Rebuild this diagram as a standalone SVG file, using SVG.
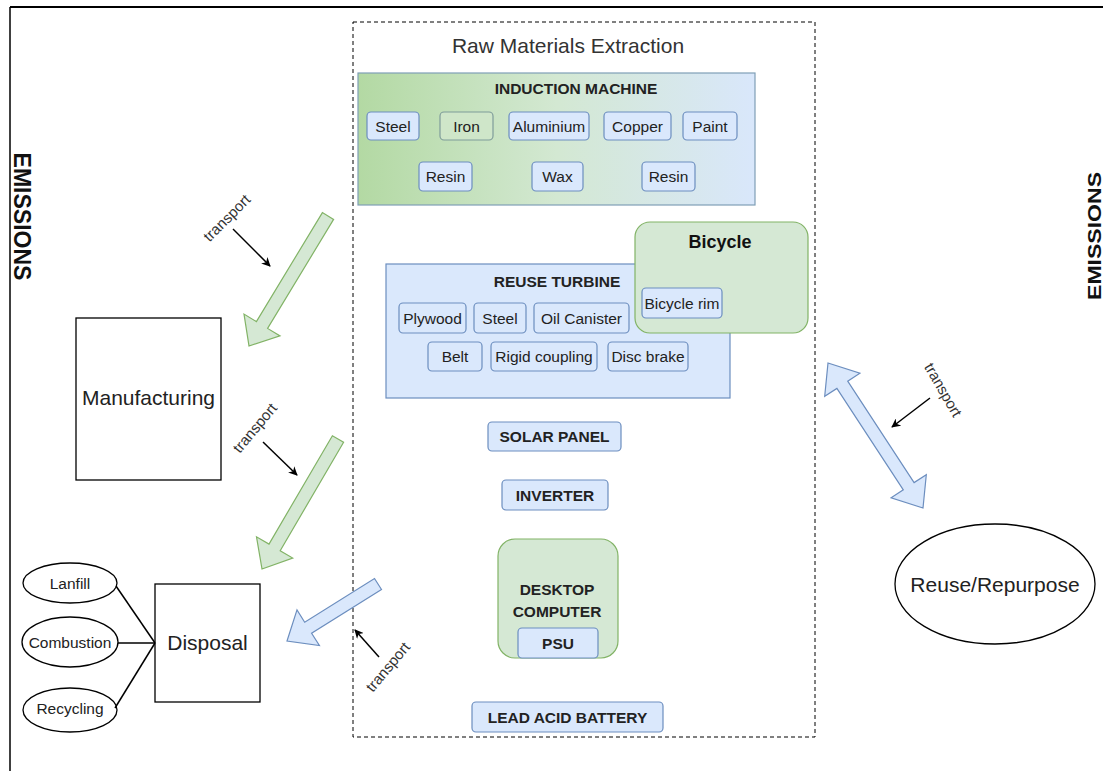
<svg xmlns="http://www.w3.org/2000/svg" width="1103" height="771" viewBox="0 0 1103 771">
<defs>
<linearGradient id="gIM" x1="0" y1="0" x2="1" y2="0">
<stop offset="0" stop-color="#b3d9a3"/>
<stop offset="0.5" stop-color="#d3e8d2"/>
<stop offset="1" stop-color="#d9e7fb"/>
</linearGradient>
<marker id="ah" viewBox="0 0 10 10" refX="9" refY="5" markerWidth="9" markerHeight="9" markerUnits="userSpaceOnUse" orient="auto">
<path d="M0,0 L10,5 L0,10 L3,5 Z" fill="#000"/>
</marker>
<style>
text{font-family:"Liberation Sans",Arial,sans-serif;fill:#222}
.item{fill:#dae8fc;stroke:#6c8ebf;stroke-width:1.2}
.itemg{fill:#cfe6c9;stroke:#7f9c9a;stroke-width:1.2}
.it{font-size:15.5px;text-anchor:middle}
.bt{font-size:15.5px;font-weight:bold;text-anchor:middle}
.big{font-size:21px;text-anchor:middle}
.plain{fill:#fff;stroke:#000;stroke-width:1.3}
.ga{fill:#d5e8d4;stroke:#82b366;stroke-width:1.2}
.ba{fill:#dae8fc;stroke:#6c8ebf;stroke-width:1.2}
.tr{font-size:15px;fill:#333;text-anchor:middle}
.sm{stroke:#000;stroke-width:1.5;fill:none}
.em{font-weight:bold;text-anchor:middle;fill:#111}
</style>
</defs>
<rect width="1103" height="771" fill="#fff"/>
<g id="frame">
<line x1="10" y1="7" x2="1103" y2="7" stroke="#000" stroke-width="2"/>
<line x1="10" y1="7" x2="10" y2="771" stroke="#000" stroke-width="1.5"/>
<text class="em" style="font-size:23px" transform="translate(14,216.5) rotate(90)">EMISSIONS</text>
<text class="em" style="font-size:19px" textLength="128" lengthAdjust="spacingAndGlyphs" transform="translate(1101,236) rotate(-90)">EMISSIONS</text>
</g>
<g id="raw-materials">
<rect x="353" y="22" width="462" height="715" fill="none" stroke="#000" stroke-width="1" stroke-dasharray="4 3"/>
<text x="568" y="53" style="font-size:21px;text-anchor:middle;fill:#333">Raw Materials Extraction</text>
</g>
<g id="induction-machine">
<rect x="358" y="73" width="397" height="132" fill="url(#gIM)" stroke="#7f9fb6" stroke-width="1.2"/>
<text class="bt" x="576" y="94">INDUCTION MACHINE</text>
<rect class="item" x="367" y="112" width="52" height="28" rx="4"/><text class="it" x="393" y="131.5">Steel</text>
<rect class="itemg" x="440" y="112" width="53" height="28" rx="4"/><text class="it" x="466.5" y="131.5">Iron</text>
<rect class="item" x="509" y="112" width="80" height="28" rx="4"/><text class="it" x="549" y="131.5">Aluminium</text>
<rect class="item" x="604" y="112" width="67" height="28" rx="4"/><text class="it" x="637.5" y="131.5">Copper</text>
<rect class="item" x="683" y="112" width="54" height="28" rx="4"/><text class="it" x="710" y="131.5">Paint</text>
<rect class="item" x="419" y="162" width="53" height="29" rx="4"/><text class="it" x="445.5" y="182">Resin</text>
<rect class="item" x="532" y="162" width="51" height="29" rx="4"/><text class="it" x="557.5" y="182">Wax</text>
<rect class="item" x="642" y="162" width="53" height="29" rx="4"/><text class="it" x="668.5" y="182">Resin</text>
</g>
<g id="reuse-turbine">
<rect x="386" y="264" width="344" height="134" fill="#dae8fc" stroke="#6c8ebf" stroke-width="1.2"/>
<text class="bt" x="557" y="287">REUSE TURBINE</text>
<rect class="item" x="399" y="303" width="67" height="30" rx="4"/><text class="it" x="432.5" y="323.5">Plywood</text>
<rect class="item" x="474" y="303" width="52" height="30" rx="4"/><text class="it" x="500" y="323.5">Steel</text>
<rect class="item" x="534" y="303" width="95" height="30" rx="4"/><text class="it" x="581.5" y="323.5">Oil Canister</text>
<rect class="item" x="428" y="342" width="54" height="29" rx="4"/><text class="it" x="455" y="362">Belt</text>
<rect class="item" x="491" y="342" width="106" height="29" rx="4"/><text class="it" x="544" y="362">Rigid coupling</text>
<rect class="item" x="608" y="342" width="80" height="29" rx="4"/><text class="it" x="648" y="362">Disc brake</text>
</g>
<g id="bicycle">
<rect x="635" y="222" width="173" height="111" rx="15" fill="#d5e8d4" stroke="#82b366" stroke-width="1.2"/>
<text x="720" y="248" style="font-size:18px;font-weight:bold;text-anchor:middle;fill:#111">Bicycle</text>
<rect class="item" x="642" y="288" width="80" height="30" rx="4"/><text class="it" x="682" y="308.5">Bicycle rim</text>
</g>
<g id="solar-panel">
<rect class="item" x="488" y="422" width="133" height="29" rx="4"/><text class="bt" x="554.5" y="442">SOLAR PANEL</text>
</g>
<g id="inverter">
<rect class="item" x="502" y="480" width="106" height="30" rx="4"/><text class="bt" x="555" y="500.5">INVERTER</text>
</g>
<g id="desktop-computer">
<rect x="498" y="539" width="120" height="119" rx="17" fill="#d5e8d4" stroke="#82b366" stroke-width="1.2"/>
<text class="bt" x="557" y="595">DESKTOP</text>
<text class="bt" x="557" y="617">COMPUTER</text>
<rect class="item" x="518" y="628" width="80" height="30" rx="4"/><text class="bt" x="558" y="648.5">PSU</text>
</g>
<g id="lead-acid-battery">
<rect class="item" x="472" y="702" width="191" height="30" rx="4"/><text class="bt" x="567.5" y="722.5">LEAD ACID BATTERY</text>
</g>
<g id="manufacturing">
<rect class="plain" x="76" y="318" width="145" height="162"/>
<text class="big" x="148.5" y="405">Manufacturing</text>
</g>
<g id="disposal">
<rect class="plain" x="155" y="584" width="105" height="118"/>
<text class="big" x="207.5" y="650">Disposal</text>
</g>
<g id="lanfill">
<ellipse class="plain" cx="70" cy="583" rx="47" ry="20"/>
<text class="it" x="70" y="589">Lanfill</text>
</g>
<g id="combustion">
<ellipse class="plain" cx="70" cy="642" rx="48" ry="25"/>
<text class="it" x="70" y="648">Combustion</text>
</g>
<g id="recycling">
<ellipse class="plain" cx="70" cy="710" rx="47" ry="22"/>
<text class="it" x="70" y="714">Recycling</text>
</g>
<g id="reuse-repurpose">
<ellipse class="plain" cx="995" cy="584" rx="100" ry="60"/>
<text class="big" x="995" y="592">Reuse/Repurpose</text>
</g>
<g id="connectors">
<line class="sm" x1="116" y1="586" x2="155" y2="643"/>
<line class="sm" x1="118" y1="643" x2="155" y2="643"/>
<line class="sm" x1="115" y1="708" x2="155" y2="643"/>
<polygon class="ga" points="333.6,219.4 267.6,328.4 280,335.9 249,346 244,314.1 256.4,321.6 322.4,212.6"/>
<polygon class="ga" points="343.6,442.3 280.2,550.7 292.7,558 262,569 256.5,536.8 269,544.1 332.4,435.7"/>
<polygon class="ba" points="381.5,589.5 311.6,633.2 319.4,645.5 287,641 297,609.9 304.7,622.2 374.5,578.5"/>
<polygon class="ba" points="828,363 859.9,373.3 847.7,381.2 914.1,482.6 926.3,474.7 923,508 891.1,497.7 903.3,489.8 836.9,388.4 824.7,396.3"/>
<line class="sm" x1="233" y1="229" x2="270" y2="266" marker-end="url(#ah)"/>
<line class="sm" x1="263" y1="442" x2="297" y2="475" marker-end="url(#ah)"/>
<line class="sm" x1="379" y1="657" x2="355" y2="630" marker-end="url(#ah)"/>
<line class="sm" x1="930" y1="398" x2="892" y2="427" marker-end="url(#ah)"/>
<text class="tr" transform="translate(227,218) rotate(-45)" y="5">transport</text>
<text class="tr" transform="translate(255,428) rotate(-50)" y="5">transport</text>
<text class="tr" transform="translate(388,667) rotate(-50)" y="5">transport</text>
<text class="tr" transform="translate(943,390) rotate(60)" y="5">transport</text>
</g>
</svg>
